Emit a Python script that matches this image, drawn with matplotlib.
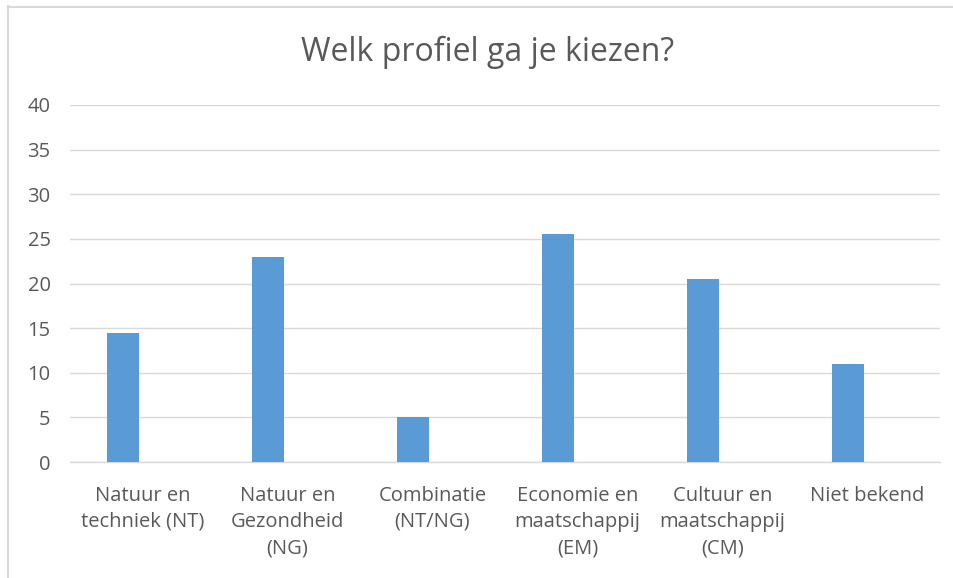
import matplotlib
matplotlib.use("Agg")
import matplotlib.pyplot as plt
from matplotlib.lines import Line2D

categories = ["Natuur en\ntechniek (NT)", "Natuur en\nGezondheid\n(NG)", "Combinatie\n(NT/NG)",
              "Economie en\nmaatschappij\n(EM)", "Cultuur en\nmaatschappij\n(CM)", "Niet bekend"]
values = [14.5, 23, 5, 25.5, 20.5, 11]
yticks = [0, 5, 10, 15, 20, 25, 30, 35, 40]
title = "Welk profiel ga je kiezen?"

plt.rcParams['font.family'] = ['Open Sans', 'DejaVu Sans']

fig = plt.figure(figsize=(9.54, 5.78), dpi=100)
ax = fig.add_axes([70/954, 1-462/578, 870/954, 357/578])

x = list(range(len(categories)))
bar_x = [i - 0.134 for i in x]
ax.bar(bar_x, values, width=0.22, color="#5B9BD5", zorder=3)
ax.set_xlim(-0.5, len(categories)-0.5)
ax.set_ylim(0, 40)
ax.set_yticks(yticks)
ax.set_xticks(x)
ax.set_xticklabels(categories, fontsize=14.5, color="#595959", linespacing=1.42)
ax.tick_params(axis='y', labelsize=14.5, labelcolor="#595959", length=0, pad=14)
ax.tick_params(axis='x', length=0, pad=17)
ax.grid(axis='y', color="#D9D9D9", linewidth=1, zorder=0)
for s in ['left', 'right', 'top']:
    ax.spines[s].set_visible(False)
ax.spines['bottom'].set_color("#D9D9D9")
ax.spines['bottom'].set_linewidth(1)

fig.text(488/954, 1-52/578, title, ha='center', va='center', fontsize=23, color="#595959")

# outer chart border (left and top edges visible)
fig.add_artist(Line2D([8.5/954, 8.5/954], [0, 1-6/578], transform=fig.transFigure,
                      color="#D9D9D9", linewidth=1.5))
fig.add_artist(Line2D([8.5/954, 1], [1-6.5/578, 1-6.5/578], transform=fig.transFigure,
                      color="#D9D9D9", linewidth=1.5))

fig.savefig("out.png", dpi=100)
